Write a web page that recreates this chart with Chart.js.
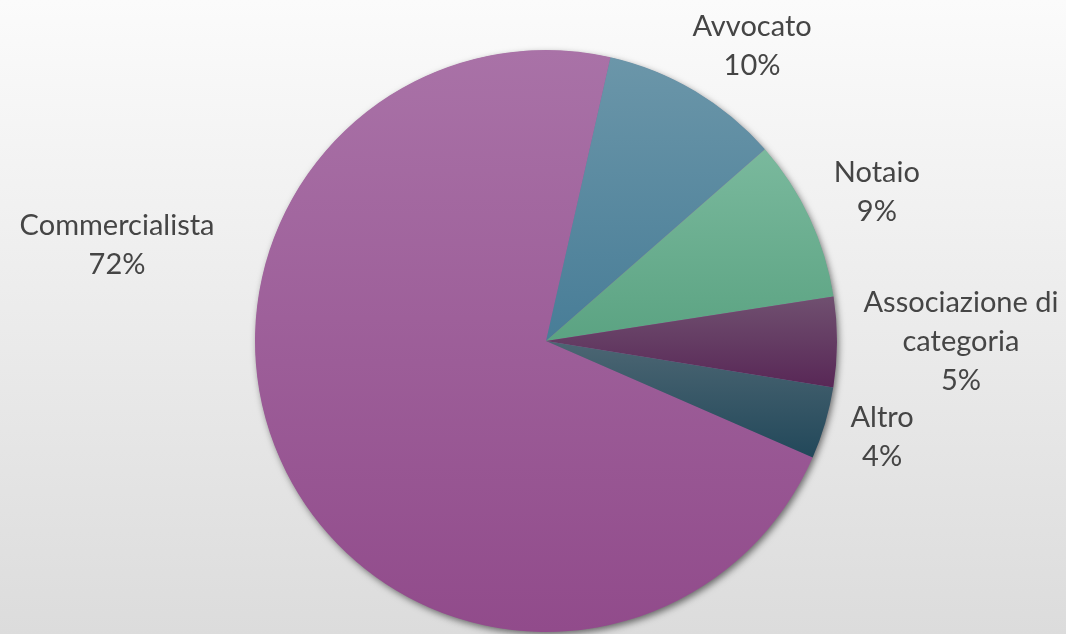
<!doctype html>
<html lang="it">
  <head>
    <meta charset="utf-8">
    <title>Professionisti</title>
    <style>
      html, body { margin: 0; padding: 0; }
      body { width: 1066px; height: 634px; overflow: hidden;
             background: linear-gradient(#fbfbfb, #dcdcdc); }
      #wrap { position: relative; width: 1066px; height: 634px; }
      canvas { display: block; }
    </style>
  </head>
  <body>
    <div id="wrap"><canvas id="myChart" width="1066" height="634"></canvas></div>

    <script src="https://cdn.jsdelivr.net/npm/chart.js@4/dist/chart.umd.min.js"></script>
    <script>
        // data
        var categories = ['Commercialista', 'Avvocato', 'Notaio', 'Associazione di\ncategoria', 'Altro']
        var values = [72, 10, 9, 5, 4]

        // top / bottom colour of each slice gradient
        var topColors = ['#a972a7', '#6b96a9', '#7ab99d', '#705070', '#4c6673']
        var bottomColors = ['#914b8b', '#487d97', '#5ba382', '#582756', '#22485a']

        // label placement, in pie radii from the centre
        var labelOffsets = [[-1.474, -0.33], [0.708, -1.014], [1.137, -0.51], [1.426, 0.003], [1.155, 0.33]]

        var ROTATION = 113.6

        // vertical extent of a slice, used for its gradient
        function sliceBounds(cx, cy, r, a0, a1) {
            var ys = [cy]
            for (var i = 0; i <= 40; i++) {
                var a = a0 + (a1 - a0) * i / 40
                ys.push(cy + r * Math.sin(a))
            }
            return [Math.min.apply(null, ys), Math.max.apply(null, ys)]
        }

        function sliceFill(context) {
            var chart = context.chart
            var area = chart.chartArea
            var i = context.dataIndex
            if (!area || i === undefined) return topColors[i || 0]
            var cx = (area.left + area.right) / 2
            var cy = (area.top + area.bottom) / 2
            var r = Math.min(area.right - area.left, area.bottom - area.top) / 2
            var total = values.reduce(function (a, b) { return a + b }, 0)
            var before = 0
            for (var k = 0; k < i; k++) before += values[k]
            var a0 = (ROTATION - 90) * Math.PI / 180 + before / total * 2 * Math.PI
            var a1 = a0 + values[i] / total * 2 * Math.PI
            var b = sliceBounds(cx, cy, r, a0, a1)
            var g = chart.ctx.createLinearGradient(0, b[0], 0, b[1])
            g.addColorStop(0, topColors[i])
            g.addColorStop(1, bottomColors[i])
            return g
        }

        // soft shadow under the whole pie
        var pieShadow = {
            id: 'pieShadow',
            beforeDatasetsDraw: function (chart) {
                var arc = chart.getDatasetMeta(0).data[0]
                if (!arc) return
                var ctx = chart.ctx
                ctx.save()
                ctx.shadowColor = 'rgba(0,0,0,0.55)'
                ctx.shadowBlur = 7
                ctx.shadowOffsetX = 2
                ctx.shadowOffsetY = 3
                ctx.fillStyle = '#9a5a96'
                ctx.beginPath()
                ctx.arc(arc.x, arc.y, arc.outerRadius - 0.5, 0, Math.PI * 2)
                ctx.fill()
                ctx.restore()
            }
        }

        var sliceLabels = {
            id: 'sliceLabels',
            afterDatasetsDraw: function (chart) {
                var ctx = chart.ctx
                var meta = chart.getDatasetMeta(0)
                ctx.save()
                ctx.font = '29px Lato, "Liberation Sans", sans-serif'
                ctx.fillStyle = '#454545'
                ctx.textAlign = 'center'
                ctx.textBaseline = 'middle'
                meta.data.forEach(function (arc, i) {
                    var lines = categories[i].split('\n').concat([values[i] + '%'])
                    var lh = 39
                    var x = arc.x + labelOffsets[i][0] * arc.outerRadius
                    var y = arc.y + labelOffsets[i][1] * arc.outerRadius - (lines.length - 1) * lh / 2
                    lines.forEach(function (t, j) {
                        ctx.fillText(t, x, y + j * lh)
                    })
                })
                ctx.restore()
            }
        }

        var ctx = document.getElementById('myChart').getContext('2d')
        var chart = new Chart(ctx, {
            type: 'pie',
            data: {
                labels: categories,
                datasets: [{
                    data: values,
                    backgroundColor: sliceFill,
                    borderWidth: 0
                }]
            },
            options: {
                responsive: false,
                animation: false,
                rotation: ROTATION,
                layout: { padding: { left: 255, right: 229, top: 50, bottom: 2 } },
                plugins: {
                    legend: { display: false },
                    tooltip: { enabled: false }
                }
            },
            plugins: [pieShadow, sliceLabels]
        })
    </script>
  </body>
</html>
